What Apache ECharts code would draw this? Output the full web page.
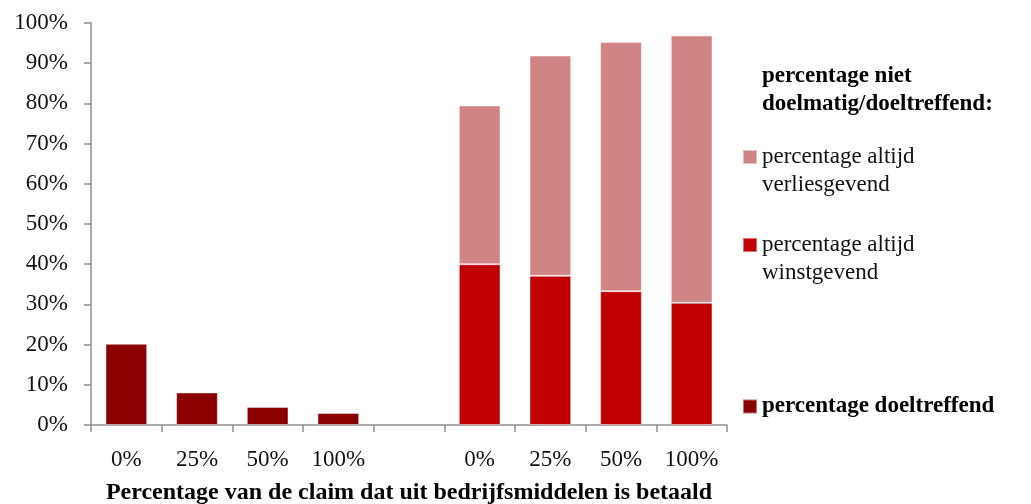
<!DOCTYPE html>
<html>
<head>
<meta charset="utf-8">
<script src="https://cdn.jsdelivr.net/npm/echarts@6/dist/echarts.min.js"></script>
<style>
  html, body { margin: 0; padding: 0; background: #fff; }
  #chart { width: 1031px; height: 504px; }
</style>
</head>
<body>
<div id="chart"></div>
<script>
// Share of the claim paid from company funds (same labels in both groups)
const claimShares = ['0%', '25%', '50%', '100%'];

// Left group: effective
const doeltreffend = [20.2, 8.1, 4.5, 3.0];

// Right group: not efficient / not effective, split in two stacked parts
const altijdWinstgevend = [40.0, 37.1, 33.3, 30.4];
const altijdVerliesgevend = [39.5, 54.8, 62.0, 66.5];

const yTicks = { min: 0, max: 100, interval: 10 };

const names = {
  doel: 'percentage doeltreffend',
  winst: 'percentage altijd winstgevend',
  verlies: 'percentage altijd verliesgevend'
};

const FONT = '"Liberation Serif", "Times New Roman", serif';
const axisGrey = '#8e8e8e';

// Nine slots: left group, an empty spacer, right group
const categories = [...claimShares, '', ...claimShares];
const pad = n => new Array(n).fill(null);
const leftData = [...doeltreffend, ...pad(5)];
const winstData = [...pad(5), ...altijdWinstgevend];
const verliesData = [...pad(5), ...altijdVerliesgevend];

const barBorder = { borderColor: 'rgba(255,255,255,0.45)', borderWidth: 1 };

const chart = echarts.init(document.getElementById('chart'), null, { renderer: 'canvas' });

const legendBase = {
  orient: 'vertical',
  left: 742,
  padding: 0,
  itemWidth: 14,
  itemHeight: 14,
  itemGap: 6,
  selectedMode: false,
  icon: 'rect'
};

// Two-line legend entries: an empty leading line keeps the swatch
// level with the first line of the label
const twoLine = (a, b) => '\u200b\n' + a + '\n' + b;

chart.setOption({
  animation: false,
  backgroundColor: '#fff',
  grid: { left: 91, right: 304, top: 23, bottom: 79, containLabel: false, outerBoundsMode: 'none' },
  xAxis: {
    type: 'category',
    data: categories,
    boundaryGap: true,
    name: 'Percentage van de claim dat uit bedrijfsmiddelen is betaald',
    nameLocation: 'middle',
    nameGap: 56,
    nameTextStyle: { fontFamily: FONT, fontSize: 24, fontWeight: 'bold', color: '#000' },
    axisLine: { lineStyle: { color: axisGrey, width: 1.5 } },
    axisTick: { show: true, length: 7, alignWithLabel: false, interval: 0, lineStyle: { color: axisGrey, width: 1.5 } },
    axisLabel: { fontFamily: FONT, fontSize: 23, color: '#111', margin: 23, interval: 0 },
    splitLine: { show: false }
  },
  yAxis: {
    type: 'value',
    min: yTicks.min,
    max: yTicks.max,
    interval: yTicks.interval,
    axisLine: { show: true, lineStyle: { color: axisGrey, width: 1.5 } },
    axisTick: { show: true, length: 7, lineStyle: { color: axisGrey, width: 1.5 } },
    axisLabel: { fontFamily: FONT, fontSize: 23, color: '#111', margin: 23, formatter: '{value}%' },
    splitLine: { show: false }
  },
  legend: [
    Object.assign({}, legendBase, {
      top: 115,
      data: [names.verlies],
      formatter: () => twoLine('percentage altijd', 'verliesgevend'),
      textStyle: { fontFamily: FONT, fontSize: 23, color: '#111', lineHeight: 28 }
    }),
    Object.assign({}, legendBase, {
      top: 203,
      data: [names.winst],
      formatter: () => twoLine('percentage altijd', 'winstgevend'),
      textStyle: { fontFamily: FONT, fontSize: 23, color: '#111', lineHeight: 28 }
    }),
    Object.assign({}, legendBase, {
      top: 395,
      data: [names.doel],
      textStyle: { fontFamily: FONT, fontSize: 23, fontWeight: 'bold', color: '#000' }
    })
  ],
  graphic: [
    {
      type: 'text',
      left: 762,
      top: 62,
      style: {
        text: 'percentage niet\ndoelmatig/doeltreffend:',
        font: 'bold 23px ' + FONT,
        lineHeight: 28,
        fill: '#000'
      }
    }
  ],
  series: [
    {
      name: names.doel,
      type: 'bar',
      stack: 'all',
      barWidth: '59%',
      data: leftData,
      itemStyle: Object.assign({ color: '#8b0000' }, barBorder)
    },
    {
      name: names.winst,
      type: 'bar',
      stack: 'all',
      barWidth: '59%',
      data: winstData,
      itemStyle: Object.assign({ color: '#c00000' }, barBorder)
    },
    {
      name: names.verlies,
      type: 'bar',
      stack: 'all',
      barWidth: '59%',
      data: verliesData,
      itemStyle: Object.assign({ color: '#d08484' }, barBorder)
    }
  ]
});
</script>
</body>
</html>
